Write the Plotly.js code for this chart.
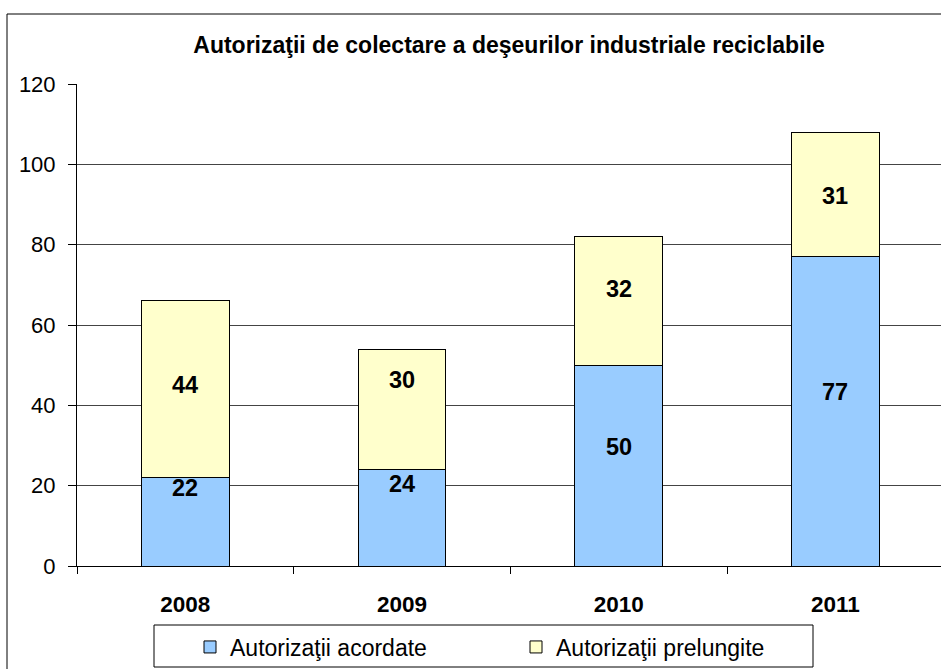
<!DOCTYPE html>
<html>
<head>
<meta charset="utf-8">
<script src="https://cdn.plot.ly/plotly-3.0.1.min.js"></script>
<style>html,body{margin:0;padding:0;background:#fff;}#chart{width:941px;height:669px;}</style>
</head>
<body>
<div id="chart"></div>
<script>
const years = ['2008', '2009', '2010', '2011'];
const acordate = [22, 24, 50, 77];
const prelungite = [44, 30, 32, 31];
const seriesNames = ['Autorizaţii acordate', 'Autorizaţii prelungite'];
const chartTitle = 'Autorizaţii de colectare a deşeurilor industriale reciclabile';

// label nudges (pixels) to mimic the original label placement
const nudgeA = [34, 34, 19, 19];
const nudgeP = [4, 29, 12, -2];

const FONT = 'Arial, "Liberation Sans", sans-serif';

const traces = [
  {type: 'bar', name: seriesNames[0], x: years, y: acordate,
   marker: {color: '#99CCFF', line: {color: '#000', width: 1}}, hoverinfo: 'none'},
  {type: 'bar', name: seriesNames[1], x: years, y: prelungite,
   marker: {color: '#FFFFCC', line: {color: '#000', width: 1}}, hoverinfo: 'none'}
];

const annotations = [];
for (let i = 0; i < years.length; i++) {
  annotations.push({x: i, y: acordate[i] / 2, xref: 'x', yref: 'y', text: '<b>' + acordate[i] + '</b>',
    showarrow: false, yshift: nudgeA[i], font: {family: FONT, size: 23.5, color: '#000'}});
  annotations.push({x: i, y: acordate[i] + prelungite[i] / 2, xref: 'x', yref: 'y', text: '<b>' + prelungite[i] + '</b>',
    showarrow: false, yshift: nudgeP[i], font: {family: FONT, size: 23.5, color: '#000'}});
}

const layout = {
  width: 941, height: 669,
  margin: {l: 77, r: 0, t: 84, b: 103, pad: 0},
  paper_bgcolor: '#fff', plot_bgcolor: '#fff',
  barmode: 'stack', bargap: 0.596,
  title: {text: '<b>' + chartTitle + '</b>', font: {family: FONT, size: 23, color: '#000'},
          x: 0.5, xref: 'paper', xanchor: 'center', y: 1 - 45 / 669, yref: 'container', yanchor: 'middle'},
  xaxis: {type: 'category', range: [-0.5, 3.487], showline: true, linecolor: '#000', linewidth: 1,
          ticks: 'outside', tickson: 'boundaries', ticklen: 7, tickcolor: '#000',
          showgrid: false, zeroline: false, ticklabelstandoff: 18,
          tickfont: {family: FONT, size: 22.5, color: '#000', weight: 'bold'}, fixedrange: true},
  yaxis: {range: [0, 120], dtick: 20, showline: true, linecolor: '#000', linewidth: 1,
          ticks: 'outside', ticklen: 8, tickcolor: '#000', showgrid: true, gridcolor: '#444', gridwidth: 1,
          zeroline: false, ticklabelstandoff: 8,
          tickfont: {family: FONT, size: 22, color: '#000'}, fixedrange: true},
  showlegend: true,
  legend: {orientation: 'h', x: (190 - 77) / 864, xanchor: 'left', y: (566 - 647) / 482, yanchor: 'middle',
           yref: 'paper', bgcolor: 'rgba(0,0,0,0)', borderwidth: 0,
           entrywidth: 281, entrywidthmode: 'pixels', traceorder: 'normal',
           font: {family: FONT, size: 23, color: '#000'}},
  shapes: [
    {type: 'rect', xref: 'paper', yref: 'paper', x0: (7 - 77) / 864, x1: 1.2, y0: -0.5, y1: (566 - 14) / 482,
     line: {color: '#000', width: 1}, layer: 'below'},
    {type: 'rect', xref: 'paper', yref: 'paper', x0: (154 - 77) / 864, x1: (813 - 77) / 864,
     y0: (566 - 667) / 482, y1: (566 - 625) / 482, line: {color: '#000', width: 1}, layer: 'below'}
  ],
  annotations: annotations
};

Plotly.newPlot('chart', traces, layout, {displayModeBar: false, staticPlot: true});
</script>
</body>
</html>
